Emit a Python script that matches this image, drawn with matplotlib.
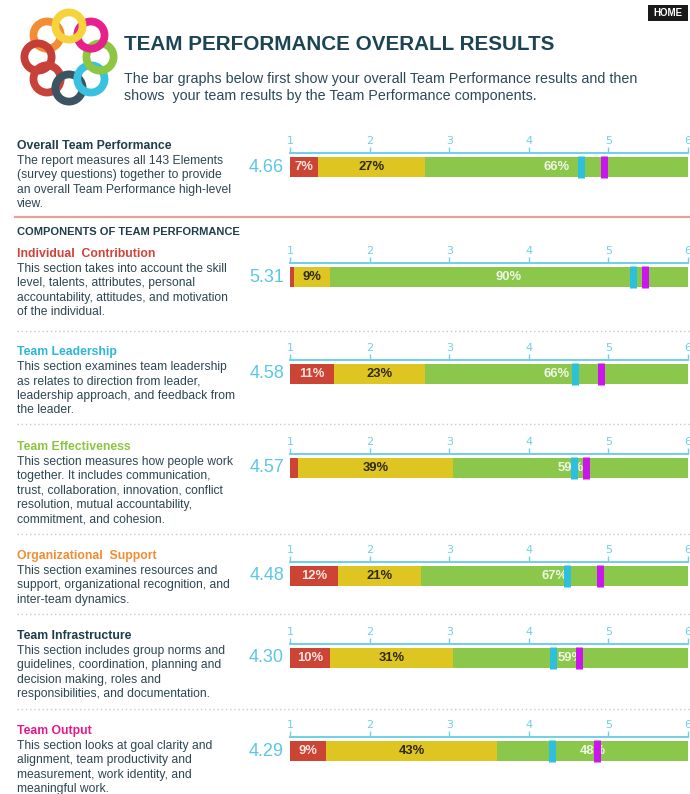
import matplotlib
matplotlib.use("Agg")
import math
import matplotlib.pyplot as plt
from matplotlib import font_manager
from matplotlib.patches import Circle, Rectangle
from matplotlib.lines import Line2D

# ---------------- data ----------------
sections = ["Overall Team Performance", "Individual  Contribution", "Team Leadership",
            "Team Effectiveness", "Organizational  Support", "Team Infrastructure", "Team Output"]
section_colors = ["#1e3d4a", "#cf4338", "#2db6d8", "#8cc540", "#f28c32", "#1e3d4a", "#e8158b"]
descriptions = [
    ["The report measures all 143 Elements", "(survey questions) together to provide",
     "an overall Team Performance high-level", "view."],
    ["This section takes into account the skill", "level, talents, attributes, personal",
     "accountability, attitudes, and motivation", "of the individual."],
    ["This section examines team leadership", "as relates to direction from leader,",
     "leadership approach, and feedback from", "the leader."],
    ["This section measures how people work", "together. It includes communication,",
     "trust, collaboration, innovation, conflict", "resolution, mutual accountability,",
     "commitment, and cohesion."],
    ["This section examines resources and", "support, organizational recognition, and",
     "inter-team dynamics."],
    ["This section includes group norms and", "guidelines, coordination, planning and",
     "decision making, roles and", "responsibilities, and documentation."],
    ["This section looks at goal clarity and", "alignment, team productivity and",
     "measurement, work identity, and", "meaningful work."],
]
scores = [4.66, 5.31, 4.58, 4.57, 4.48, 4.30, 4.29]
benchmarks = [4.94, 5.46, 4.91, 4.72, 4.89, 4.63, 4.86]
low_pct = [7, 1, 11, 2, 12, 10, 9]
mid_pct = [27, 9, 23, 39, 21, 31, 43]
high_pct = [66, 90, 66, 59, 67, 59, 48]
scale_ticks = [1, 2, 3, 4, 5, 6]

title = "TEAM PERFORMANCE OVERALL RESULTS"
subtitle = ["The bar graphs below first show your overall Team Performance results and then",
            "shows  your team results by the Team Performance components."]
components_heading = "COMPONENTS OF TEAM PERFORMANCE"

# ---------------- layout (pixels) ----------------
W, H = 690, 794
title_y = [146, 254, 352, 447, 556, 636, 731]
bar_top = [157, 267, 364, 458, 566, 648, 741]
bar_h = 20
spine_gap = 4
dotted_y = [331, 424, 534, 614, 709]
line_step = 14.4

names = {f.name for f in font_manager.fontManager.ttflist}
if "Liberation Sans Narrow" in names:
    body_font = ["Liberation Sans Narrow", "DejaVu Sans"]
    body_size = 10.6
else:
    body_font = ["Liberation Sans", "DejaVu Sans"]
    body_size = 8.7
main_font = ["Liberation Sans", "DejaVu Sans"]

RED, YEL, GRN = "#cc4434", "#dfc522", "#8bc74a"
CYAN_M, MAG_M = "#2cc0de", "#cc14ee"
AX_CYAN = "#6fd0ea"
BODY = "#2c4753"

fig = plt.figure(figsize=(W / 100, H / 100), dpi=100)
fig.patch.set_facecolor("white")


def fx(x):
    return x / W


def fy(y):
    return 1 - y / H


# ---------------- logo ----------------
lax = fig.add_axes([fx(12), fy(114), fx(116), 110 / H])
lax.set_xlim(12, 128)
lax.set_ylim(114, 4)
lax.set_aspect("equal")
lax.axis("off")
logo_cols = ["#f6d33c", "#e6218c", "#8dc640", "#38c1e1", "#3c5461", "#c9423a", "#c43d36", "#f38d34"]
logo_ang = [90, 45, 0, -45, -90, -135, 180, 135]
cx, cy, R = 69, 57, 31
for k, (col, a) in enumerate(zip(logo_cols, logo_ang)):
    x = cx + R * math.cos(math.radians(a))
    y = cy - R * math.sin(math.radians(a))
    lax.add_patch(Circle((x, y), 13.6, fill=False, lw=5.6, ec=col, zorder=10 - k))

# ---------------- header ----------------
fig.text(fx(124), fy(45), title, fontsize=14.9, fontweight="bold", color="#1d4452",
         family=main_font, va="center", ha="left")
for i, s in enumerate(subtitle):
    fig.text(fx(124), fy(79 + i * 17), s, fontsize=10.3, color="#2b4a58",
             family=main_font, va="center", ha="left")

# HOME button
fig.patches.append(Rectangle((fx(648), fy(21)), fx(40), 16 / H, transform=fig.transFigure,
                             fc="#1a1a1a", ec="none"))
fig.text(fx(668), fy(13), "HOME", fontsize=7.0, fontweight="bold", color="white",
         family=main_font, ha="center", va="center")

# separators
fig.add_artist(Line2D([fx(15), fx(690)], [fy(217), fy(217)], color="#e3a398", lw=1.6))
fig.text(fx(17), fy(232), components_heading, fontsize=8.0, fontweight="bold", color="#1e3d4a",
         family=main_font, va="center", ha="left")
for y in dotted_y:
    fig.add_artist(Line2D([fx(17), fx(690)], [fy(y), fy(y)], color="#c9c9c9", lw=1.0,
                          linestyle=(0, (1, 2))))

# ---------------- rows ----------------
for i in range(len(sections)):
    fig.text(fx(17), fy(title_y[i]), sections[i], fontsize=body_size + 0.1, fontweight="bold",
             color=section_colors[i], family=body_font, va="center", ha="left")
    for j, line in enumerate(descriptions[i]):
        fig.text(fx(17), fy(title_y[i] + 15 + j * line_step), line, fontsize=body_size,
                 color=BODY, family=body_font, va="center", ha="left")

    top = bar_top[i]
    spine = top - spine_gap
    bottom = top + bar_h
    ax = fig.add_axes([fx(290), fy(bottom), fx(398), (bottom - spine) / H])
    ax.set_xlim(0, 100)
    ax.set_ylim(0, (bottom - spine) / bar_h)
    ax.axis("off")
    vals = [low_pct[i], mid_pct[i], high_pct[i]]
    cols = [RED, YEL, GRN]
    tcols = ["#f7e6e2", "#2e2a10", "#f0f6e6"]
    left = 0
    for v, c, tc in zip(vals, cols, tcols):
        ax.barh(0.5, v, left=left, height=1.0, color=c, edgecolor="none")
        if v >= 5:
            ax.text(left + v / 2, 0.5, f"{v}%", ha="center", va="center", fontsize=9.4,
                    fontweight="bold", color=tc, family=main_font)
        left += v

    ax2 = ax.twiny()
    ax2.set_xlim(1, 6)
    ax2.set_ylim(ax.get_ylim())
    for s in ["left", "right", "bottom"]:
        ax2.spines[s].set_visible(False)
    ax2.spines["top"].set_color(AX_CYAN)
    ax2.spines["top"].set_linewidth(1.4)
    ax2.set_xticks(scale_ticks)
    ax2.tick_params(axis="x", which="both", top=True, bottom=False, direction="out",
                    length=4, width=1.0, color=AX_CYAN, labelcolor=AX_CYAN, labelsize=8,
                    pad=1)
    ax2.set_yticks([])
    ax2.patch.set_visible(False)
    ax2.vlines([scores[i]], -0.04, 1.04, colors=CYAN_M, lw=5.0, clip_on=False)
    ax2.vlines([benchmarks[i]], -0.04, 1.04, colors=MAG_M, lw=5.0, clip_on=False)

    fig.text(fx(284), fy(top + bar_h / 2), f"{scores[i]:.2f}", fontsize=13, color="#5cc6e6",
             family=main_font, ha="right", va="center")

fig.savefig("out.png", dpi=100, facecolor="white")
